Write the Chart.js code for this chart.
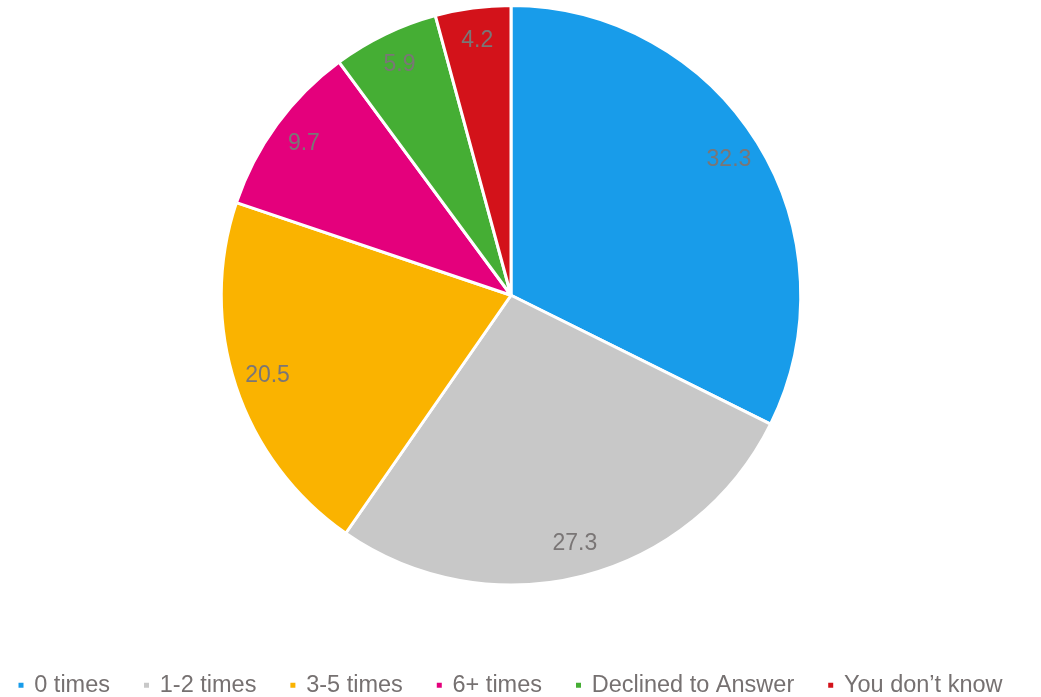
<!DOCTYPE html>
<html>
<head>
<meta charset="utf-8">
<script src="https://cdn.jsdelivr.net/npm/chart.js@4/dist/chart.umd.min.js"></script>
<style>
  html, body { margin: 0; padding: 0; background: #fff; overflow: hidden; }
  #wrap { width: 1060px; height: 697px; position: relative; left: -19px; }
</style>
</head>
<body>
<div id="wrap"><canvas id="chartPie"></canvas></div>
<script>
// ── Datos ───────────────────────────────────────────────
const categorias = ['0 times', '1-2 times', '3-5 times', '6+ times', 'Declined to Answer', 'You don\u2019t know'];
const valores    = [32.3, 27.3, 20.5, 9.7, 5.9, 4.2];
const colores    = ['#189CEA', '#C8C8C8', '#FAB300', '#E4007C', '#45AE34', '#D3121A'];

const FONT = '"Liberation Sans", Arial, sans-serif';

// etiquetas de valor sobre cada sector
const valueLabels = {
  id: 'valueLabels',
  afterDatasetsDraw(chart) {
    const { ctx } = chart;
    const meta = chart.getDatasetMeta(0);
    ctx.save();
    ctx.font = '23px ' + FONT;
    ctx.fillStyle = '#7a7676';
    ctx.textAlign = 'center';
    ctx.textBaseline = 'middle';
    meta.data.forEach((arc, i) => {
      const p = arc.getProps(['x', 'y', 'startAngle', 'endAngle', 'outerRadius'], true);
      const mid = (p.startAngle + p.endAngle) / 2;
      const r = p.outerRadius * 0.885;
      ctx.fillText(String(valores[i]), p.x + Math.cos(mid) * r, p.y + Math.sin(mid) * r);
    });
    ctx.restore();
  }
};

new Chart(document.getElementById('chartPie'), {
  type: 'pie',
  data: {
    labels: categorias,
    datasets: [{
      data: valores,
      backgroundColor: colores,
      borderColor: '#ffffff',
      borderWidth: 3
    }]
  },
  options: {
    responsive: true, maintainAspectRatio: false, animation: false,
    layout: { padding: { top: 4, right: 0, bottom: -10, left: 0 } },
    plugins: {
      tooltip: { enabled: false },
      // espaciador entre la torta y la leyenda
      title: {
        display: true, text: ' ', position: 'bottom', weight: 500,
        padding: 0, font: { size: 10, lineHeight: '52px' }
      },
      legend: {
        position: 'bottom',
        labels: {
          usePointStyle: true, pointStyle: 'rect',
          boxWidth: 3, boxHeight: 8, padding: 35,
          color: '#767171',
          font: { family: FONT, size: 23.5 }
        }
      }
    }
  },
  plugins: [valueLabels]
});
</script>
</body>
</html>
